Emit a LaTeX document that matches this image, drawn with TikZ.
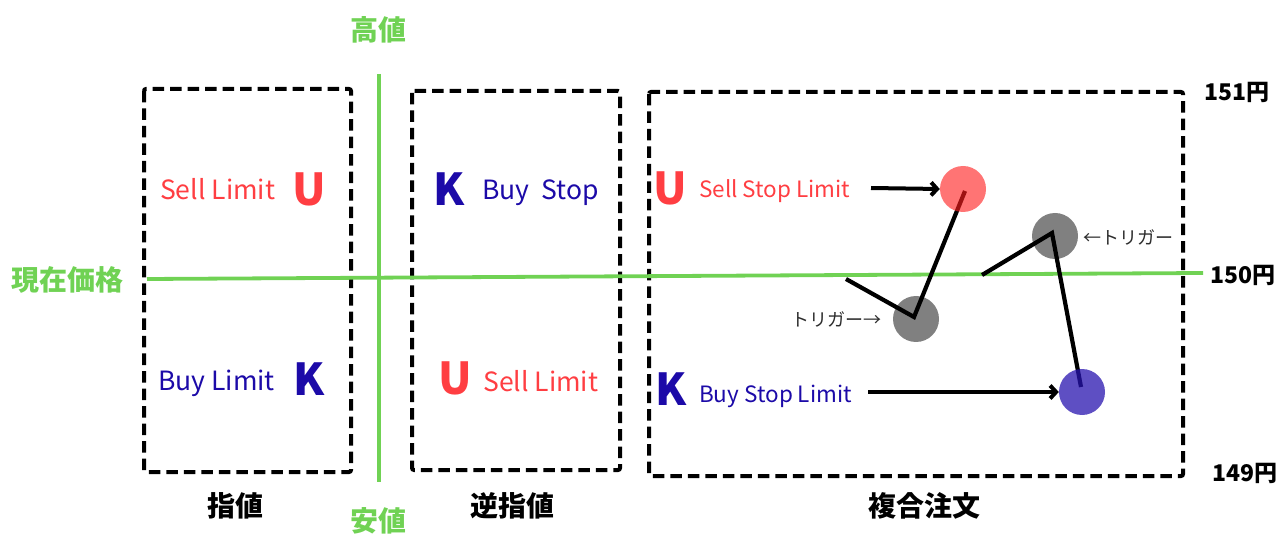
\documentclass[tikz,border=0pt]{standalone}
\usepackage{fontspec}
\setmainfont{Noto Sans CJK JP}
\usetikzlibrary{arrows.meta}
\definecolor{grn}{RGB}{112,210,84}
\definecolor{rtxt}{RGB}{255,62,66}
\definecolor{btxt}{RGB}{28,10,168}
\definecolor{cred}{RGB}{255,30,30}
\definecolor{cblue}{RGB}{40,20,175}
\definecolor{cgray}{RGB}{128,128,128}
\definecolor{tgray}{RGB}{45,45,45}
\tikzset{
  dbox/.style={draw=black, line width=4pt, dash pattern=on 11.5pt off 6pt, rounded corners=2pt},
  gline/.style={draw=grn, line width=3.8pt},
  glabel/.style={text=grn, font=\bfseries\fontsize{28}{30}\selectfont, inner sep=0pt},
  blabel/.style={text=black, font=\bfseries\fontsize{28}{30}\selectfont, inner sep=0pt},
  price/.style={text=black, font=\bfseries\fontsize{23}{25}\selectfont, inner sep=0pt},
  rname/.style={text=rtxt, font=\fontsize{26.5}{28}\selectfont, inner sep=0pt, anchor=base west},
  bname/.style={text=btxt, font=\fontsize{26.5}{28}\selectfont, inner sep=0pt, anchor=base west},
  rname3/.style={text=rtxt, font=\fontsize{22.5}{24}\selectfont, inner sep=0pt, anchor=base west},
  bname3/.style={text=btxt, font=\fontsize{22.5}{24}\selectfont, inner sep=0pt, anchor=base west},
  bigU/.style={text=rtxt, font=\bfseries\fontsize{44}{46}\selectfont, inner sep=0pt, anchor=base},
  bigK/.style={text=btxt, font=\bfseries\fontsize{44}{46}\selectfont, inner sep=0pt, anchor=base},
  trig/.style={text=tgray, font=\fontsize{18}{20}\selectfont, inner sep=0pt},
  dot/.style={circle, minimum size=46pt, inner sep=0pt},
  conn/.style={draw=black, line width=4.2pt},
  arr/.style={draw=black, line width=4pt, -{Straight Barb[length=6pt,width=13pt,line width=4pt]}},
}
\begin{document}
\begin{tikzpicture}[x=1pt,y=-1pt]
\useasboundingbox (0,0) rectangle (1279,534);
% boxes
\draw[dbox] (144,89) rectangle (351,472);
\draw[dbox] (412,91) rectangle (620,470);
\draw[dbox] (649,92) rectangle (1183,476);
% axes
\draw[gline] (147,279) -- (1203,273);
\draw[gline] (379,74) -- (379,482);
% axis labels
\node[glabel] (hi) at (378,30) {高値};
\node[glabel] (lo) at (378,521) {安値};
\node[glabel] (cur) at (68,280) {現在価格};
\node[blabel] (l1) at (235,506) {指値};
\node[blabel] (l2) at (512,506) {逆指値};
\node[blabel] (l3) at (924,506) {複合注文};
\node[price] (p151) at (1237,92) {151円};
\node[price] (p150) at (1243,275) {150円};
\node[price] (p149) at (1245,473) {149円};
% box 1
\node[rname] (sl1) at (160,200) {Sell Limit};
\node[bigU] (u1) at (309.5,206) {U};
\node[bname] (bl1) at (158,390) {Buy Limit};
\node[bigK] (k1) at (309.5,395) {K};
% box 2
\node[bigK] (k2) at (449.5,206) {K};
\node[bname] (bs2) at (482,200) {Buy\ \ Stop};
\node[bigU] (u2) at (455,394) {U};
\node[rname] (sl2) at (483,391) {Sell Limit};
% box 3
\node[bigU] (u3) at (670.5,205) {U};
\node[rname3] (ssl) at (699,198) {Sell Stop Limit};
\node[bigK] (k3) at (671,405) {K};
\node[bname3] (bsl) at (699,402) {Buy Stop Limit};
% circles
\node[dot, fill=cgray] (g1) at (916,319) {};
\node[dot, fill=cgray] (g2) at (1055,236) {};
\coordinate (s1) at (846,279);
\coordinate (v1) at (914,317);
\coordinate (e1) at (965,191);
\coordinate (s2) at (982,275);
\coordinate (v2) at (1052,233);
\coordinate (e2) at (1081,387);
\draw[conn] (s1) -- (v1) -- (e1);
\draw[conn] (s2) -- (v2) -- (e2);
\node[dot, fill=cred, fill opacity=0.62] (rc) at (963,189) {};
\node[dot, fill=cblue, fill opacity=0.75] (bc) at (1082,392) {};
\coordinate (a1) at (871,188);
\coordinate (a2) at (868,392);
\draw[arr] (a1) -- (rc.west);
\draw[arr] (a2) -- (bc.west);
\node[trig, anchor=east] (t1) at (882,319) {トリガー→};
\node[trig, anchor=west] (t2) at (1083,237) {←トリガー};
\end{tikzpicture}
\end{document}
